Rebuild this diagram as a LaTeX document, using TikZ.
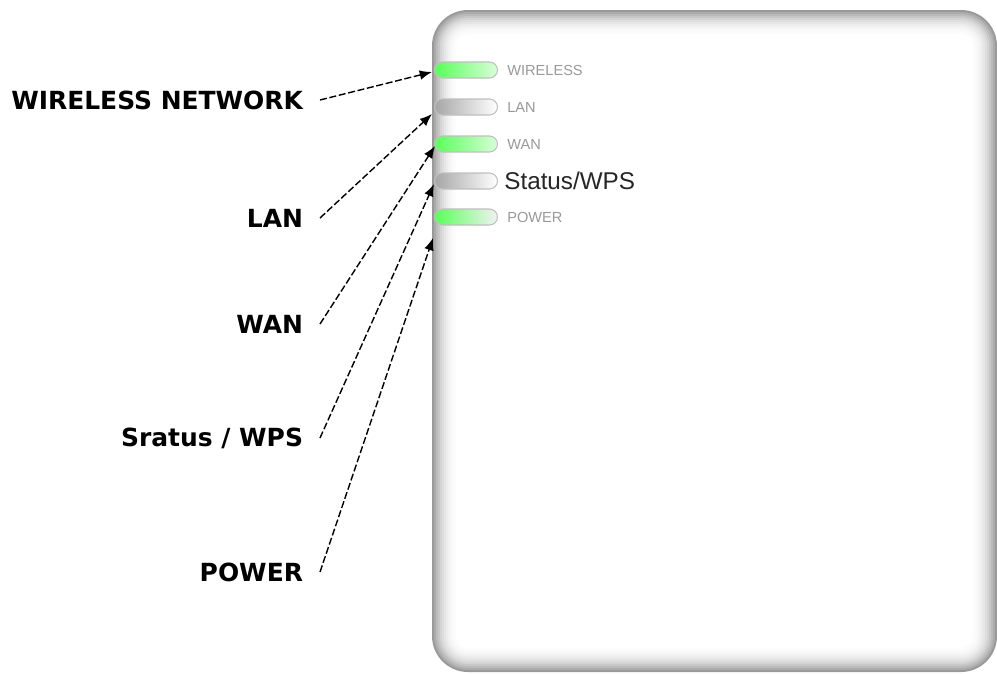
\documentclass[tikz,border=0pt]{standalone}
\usepackage{fontspec}
\newfontfamily\calloutfont{DejaVu Sans}
\newfontfamily\panelfont{Liberation Sans}
\usetikzlibrary{arrows.meta}
\tikzset{
	callout/.style={font=\calloutfont\bfseries\fontsize{14.2}{17}\selectfont, anchor=east, inner sep=0pt, outer xsep=0.34cm},
	pointer/.style={dash pattern=on 4pt off 1.5pt, line width=0.8pt, -{Latex[length=7pt,width=5.5pt]}},
	led/.style={rounded corners=0.16cm, draw=black!25, line width=0.6pt, minimum width=1.26cm, minimum height=0.32cm, inner sep=0pt},
	ledon/.style={led, left color=green!65!white, right color=green!15!white},
	ledoff/.style={led, left color=black!35, right color=white},
	ledtext/.style={font=\panelfont\fontsize{8.3}{9}\selectfont, text=black!40, anchor=west, inner sep=0pt},
}
\begin{document}
\begin{tikzpicture}[x=0.02cm, y=-0.02cm]
				\useasboundingbox (0, 0) rectangle (997, 673);
				
				\foreach \i/\g in {0/40, 2/33, 4/27, 6/22, 8/17, 10/13, 12/10, 14/7, 16/5, 18/3, 20/2, 22/1, 24/0} {
					\pgfmathsetmacro\r{0.72 - 0.02*\i}
					\fill[black!\g!white, rounded corners=\r cm] (432+\i, 10+\i) rectangle (997-\i, 672-\i);
				}
				
				\node[ledon] (wirelessled) at (466, 70) {};
				\node[ledoff] (lanled) at (466, 107) {};
				\node[ledon] (wanled) at (466, 144) {};
				\node[ledoff] (statusled) at (466, 181) {};
				\node[ledon, right color=black!5] (powerled) at (466, 217) {};
				
				\node[ledtext] (wirelesstext) at (507, 70) {WIRELESS};
				\node[ledtext] (lantext) at (507, 107) {LAN};
				\node[ledtext] (wantext) at (507, 144) {WAN};
				\node[ledtext, font=\panelfont\fontsize{13.8}{16}\selectfont, text=black!85] (statustext) at (504, 181) {Status/WPS};
				\node[ledtext] (powertext) at (507, 217) {POWER};
				
				\node[callout] (wirelesslbl) at (320, 100) {WIRELESS NETWORK};
				\node[callout] (lanlbl) at (320, 218) {LAN};
				\node[callout] (wanlbl) at (320, 324) {WAN};
				\node[callout] (statuslbl) at (320, 438) {Sratus / WPS};
				\node[callout] (powerlbl) at (320, 572) {POWER};
				
				\coordinate (wirelesstip) at (432, 72);
				\coordinate (lantip) at (432, 114);
				\coordinate (wantip) at (435, 146);
				\coordinate (statustip) at (434, 184);
				\coordinate (powertip) at (433, 238);
				
				\draw[pointer] (wirelesslbl.east) -- (wirelesstip);
				\draw[pointer] (lanlbl.east) -- (lantip);
				\draw[pointer] (wanlbl.east) -- (wantip);
				\draw[pointer] (statuslbl.east) -- (statustip);
				\draw[pointer] (powerlbl.east) -- (powertip);
			\end{tikzpicture}
\end{document}
